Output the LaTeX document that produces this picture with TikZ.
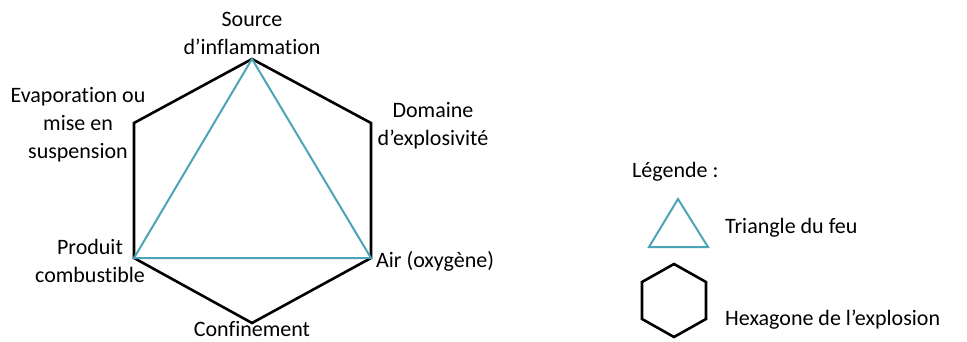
\documentclass[tikz,border=0pt]{standalone}
\usepackage{fontspec}
\setmainfont[Ligatures=NoCommon]{Carlito}
\definecolor{feu}{RGB}{75,165,182}
\tikzset{
  hexa/.style={color=black, line width=2.6pt, line join=miter},
  tria/.style={color=feu, line width=2pt, line join=miter},
  lbl/.style={align=center, inner sep=0pt, font=\fontsize{22}{28}\selectfont}
}
\begin{document}
\begin{tikzpicture}[x=1pt, y=-1pt]
        \useasboundingbox (0,0) rectangle (967,342);
        % hexagone
        \coordinate (hT) at (252,59);
        \coordinate (hUR) at (371,123);
        \coordinate (hLR) at (371,258);
        \coordinate (hB) at (252,323);
        \coordinate (hLL) at (134,258);
        \coordinate (hUL) at (134,123);
        \draw[hexa] (hT) -- (hUR) -- (hLR) -- (hB) -- (hLL) -- (hUL) -- cycle;
        % triangle
        \draw[tria] (hT) -- (hLR) -- (hLL) -- cycle;
        % textes
        \node[lbl] (source) at (252,33) {Source\\d’inflammation};
        \node[lbl] (evap) at (78,125) {Evaporation ou\\mise en\\suspension};
        \node[lbl] (domaine) at (433,126) {Domaine\\d’explosivité};
        \node[lbl] (produit) at (90,261) {Produit\\combustible};
        \node[lbl, anchor=west] (air) at (376,261) {Air (oxygène)};
        \node[lbl] (confin) at (252,329.5) {Confinement};
        % legende
        \node[lbl, anchor=west] (legende) at (632,172) {Légende :};
        \coordinate (tT) at (678,199);
        \coordinate (tR) at (708,247);
        \coordinate (tL) at (649,247);
        \draw[tria] (tT) -- (tR) -- (tL) -- cycle;
        \node[lbl, anchor=west] (triangle) at (725,228) {Triangle du feu};
        \coordinate (lT) at (674,264);
        \coordinate (lUR) at (706,282);
        \coordinate (lLR) at (706,319);
        \coordinate (lB) at (674,337);
        \coordinate (lLL) at (642,319);
        \coordinate (lUL) at (642,282);
        \draw[hexa] (lT) -- (lUR) -- (lLR) -- (lB) -- (lLL) -- (lUL) -- cycle;
        \node[lbl, anchor=west] (hexagone) at (725,320) {Hexagone de l’explosion};
\end{tikzpicture}
\end{document}
